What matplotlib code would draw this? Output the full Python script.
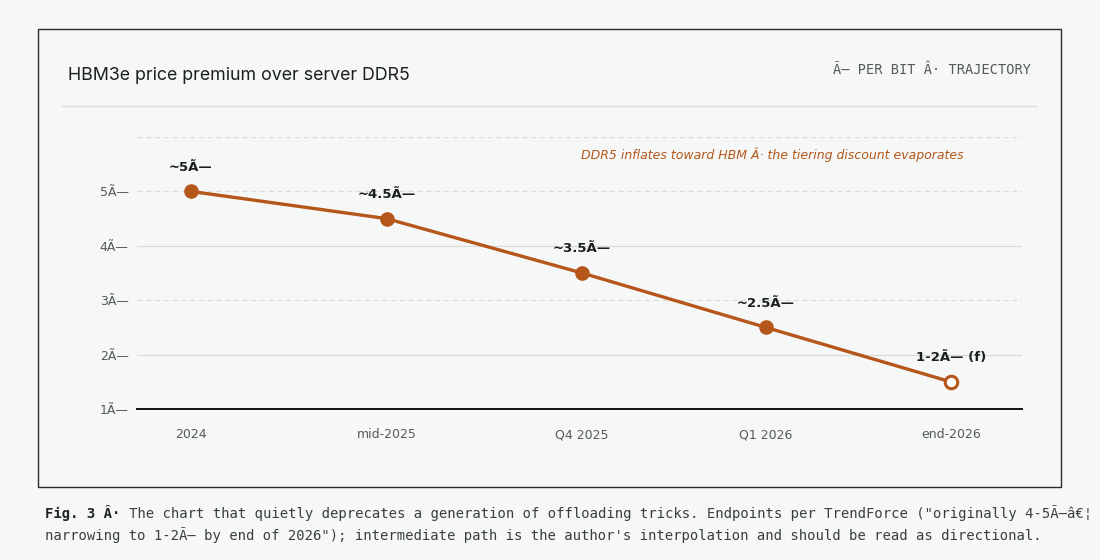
import matplotlib
matplotlib.use("Agg")
import matplotlib.pyplot as plt
from matplotlib.patches import Rectangle
from matplotlib.lines import Line2D

# ---- data ----
periods = ["2024", "mid-2025", "Q4 2025", "Q1 2026", "end-2026"]
period_pos = [0, 1, 2, 2.94, 3.885]
premium = [5.0, 4.5, 3.5, 2.5, 1.5]
value_labels = ["~5\u00c3\u2014", "~4.5\u00c3\u2014", "~3.5\u00c3\u2014", "~2.5\u00c3\u2014", "1-2\u00c3\u2014 (f)"]
forecast = [False, False, False, False, True]
y_ticks = [1, 2, 3, 4, 5]
y_tick_labels = ["1\u00c3\u2014", "2\u00c3\u2014", "3\u00c3\u2014", "4\u00c3\u2014", "5\u00c3\u2014"]

title = "HBM3e price premium over server DDR5"
subtitle = "\u00c3\u2014 PER BIT \u00c2\u00b7 TRAJECTORY"
note = "DDR5 inflates toward HBM \u00c2\u00b7 the tiering discount evaporates"
cap_bold = "Fig. 3 \u00c2\u00b7"
cap_line1 = ("The chart that quietly deprecates a generation of offloading tricks. "
             "Endpoints per TrendForce (\"originally 4-5\u00c3\u2014\u00e2\u20ac\u00a6")
cap_line2 = ("narrowing to 1-2\u00c3\u2014 by end of 2026\"); intermediate path is the "
             "author's interpolation and should be read as directional.")

BG = "#f6f8f7"
ORANGE = "#b5561b"
INK = "#1b1f1e"
GREY = "#555a59"
GRID = "#d9dcdb"

fig = plt.figure(figsize=(11, 5.6), dpi=100, facecolor=BG)

# panel frame
frame = Rectangle((38/1100, 1-487/560), 1023/1100, 458/560,
                  transform=fig.transFigure, facecolor=BG,
                  edgecolor="#2a2a2a", linewidth=1.0, zorder=-5)
fig.add_artist(frame)
# separator under title
fig.add_artist(Line2D([62/1100, 1037/1100], [1-106/560, 1-106/560],
                      transform=fig.transFigure, color="#dcdfde", linewidth=1.0))

fig.text(68/1100, 1-75/560, title, fontsize=12.8, family=["Inter", "DejaVu Sans"],
         color=INK, va="center", ha="left")
fig.text(1031/1100, 1-70/560, subtitle, fontsize=9.8, family="DejaVu Sans Mono",
         color=GREY, va="center", ha="right")

ax = fig.add_axes([137/1100, 1-409/560, 885/1100, 272/560])
ax.set_zorder(2)
ax.set_facecolor("none")
ax.set_xlim(-0.276, 4.25)
ax.set_ylim(1, 6)

for yv in [2, 3, 4, 5, 6]:
    ls = "-" if yv in (2, 4) else (0, (4, 3))
    ax.axhline(yv, color=GRID, linewidth=0.9, linestyle=ls, zorder=1)

ax.plot(period_pos, premium, color=ORANGE, linewidth=2.4, zorder=3, solid_capstyle="round")
for x, y, lab, f in zip(period_pos, premium, value_labels, forecast):
    if f:
        ax.plot(x, y, marker="o", markersize=9, markerfacecolor="white",
                markeredgecolor=ORANGE, markeredgewidth=2.2, zorder=4)
    else:
        ax.plot(x, y, marker="o", markersize=9.5, markerfacecolor=ORANGE,
                markeredgecolor=ORANGE, zorder=4)
    ax.annotate(lab, (x, y), xytext=(0, 17.5), textcoords="offset points",
                ha="center", va="center", fontsize=9.5, fontweight="bold", color=INK)

ax.text(3.95, 5.67, note, fontsize=9, style="italic", color=ORANGE,
        ha="right", va="center")

ax.set_xticks(period_pos)
ax.set_xticklabels(periods)
ax.set_yticks(y_ticks)
ax.set_yticklabels(y_tick_labels)
ax.tick_params(axis="both", length=0, labelsize=9, labelcolor=GREY)
ax.tick_params(axis="x", pad=14)
ax.tick_params(axis="y", pad=6)
for s in ["top", "right", "left"]:
    ax.spines[s].set_visible(False)
ax.spines["bottom"].set_color("#111111")
ax.spines["bottom"].set_linewidth(1.4)

# caption
cx = 45/1100
char_w = 0.6021 * 10 / 72 * 100 / 1100  # monospace advance in figure fraction
fig.text(cx, 1-513/560, cap_bold, fontsize=10, family="DejaVu Sans Mono",
         fontweight="bold", color="#1f2322", va="center", ha="left")
fig.text(cx + (len(cap_bold) + 1) * char_w, 1-513/560, cap_line1, fontsize=10,
         family="DejaVu Sans Mono", color="#3a3f3e", va="center", ha="left")
fig.text(cx, 1-535/560, cap_line2, fontsize=10, family="DejaVu Sans Mono",
         color="#3a3f3e", va="center", ha="left")

fig.savefig("out.png", dpi=100, facecolor=BG)
